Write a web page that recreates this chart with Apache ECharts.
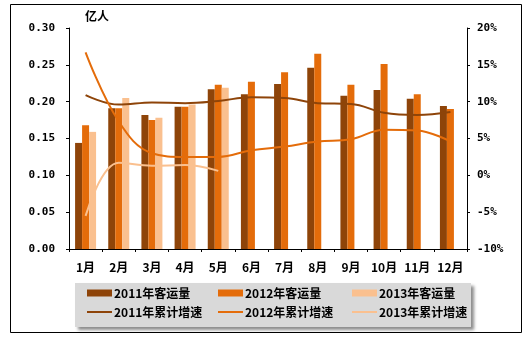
<!DOCTYPE html>
<html>
<head>
<meta charset="utf-8">
<script src="https://cdn.jsdelivr.net/npm/echarts@6/dist/echarts.min.js"></script>
<style>html,body{margin:0;padding:0;background:#fff;}#c{width:526px;height:338px;}</style>
</head>
<body>
<div id="c"></div>
<script>
var months = ['1月','2月','3月','4月','5月','6月','7月','8月','9月','10月','11月','12月'];
var vol2011 = [0.144,0.191,0.182,0.193,0.217,0.210,0.224,0.246,0.208,0.216,0.204,0.194];
var vol2012 = [0.168,0.191,0.175,0.193,0.223,0.227,0.240,0.265,0.223,0.251,0.210,0.190];
var vol2013 = [0.159,0.205,0.178,0.196,0.219,'-','-','-','-','-','-','-'];
var gr2011 = [10.9,9.6,9.9,9.8,10.1,10.6,10.5,9.8,9.7,8.5,8.2,8.6];
var gr2012 = [16.7,7.3,3.0,2.5,2.5,3.4,3.9,4.6,4.9,6.2,6.1,4.6];
var gr2013 = [-5.5,1.7,1.3,1.4,0.6,'-','-','-','-','-','-','-'];
var leftTicks = [0,0.30,0.05];
var rightTicks = [-10,20,5];

var cDark = '#8E4409', cOrange = '#E46C0A', cLight = '#FAC08F';
var monoFont = 'DejaVu Sans Mono';
var cjkFont = 'Noto Sans CJK SC';

var chart = echarts.init(document.getElementById('c'));
function legendItem(left, top, name, h) {
  return {
    orient: 'horizontal', left: left, top: top, itemWidth: 25, itemHeight: h,
    padding: 0, icon: 'rect',
    data: [name],
    textStyle: {fontFamily: cjkFont, fontWeight: 'bold', fontSize: 12, color: '#000', lineHeight: 12, padding: [0,0,0,-3]}
  };
}
chart.setOption({
  animation: false,
  graphic: [
    {type: 'rect', shape: {x: 10.5, y: 4.5, width: 511, height: 328}, style: {fill: 'none', stroke: '#000', lineWidth: 1}, z: 0},
    {type: 'rect', shape: {x: 75, y: 283, width: 396, height: 44},
     style: {fill: '#d9d9d9', shadowBlur: 3, shadowOffsetX: 3, shadowOffsetY: 3, shadowColor: 'rgba(0,0,0,0.45)'}, z: 1}
  ],
  legend: [
    legendItem(87, 287, '2011年客运量', 7),
    legendItem(218, 287, '2012年客运量', 7),
    legendItem(352, 287, '2013年客运量', 7),
    legendItem(87, 306, '2011年累计增速', 2),
    legendItem(218, 306, '2012年累计增速', 2),
    legendItem(352, 306, '2013年累计增速', 2)
  ],
  grid: {left: 69, right: 59, top: 28, bottom: 89},
  xAxis: {
    type: 'category', data: months,
    axisLine: {lineStyle: {color: '#000', width: 1}},
    axisTick: {show: true, length: 3, lineStyle: {color: '#000'}},
    axisLabel: {interval: 0, fontFamily: cjkFont, fontWeight: 'bold', fontSize: 12, color: '#000', margin: 12}
  },
  yAxis: [
    {type: 'value', min: leftTicks[0], max: leftTicks[1], interval: leftTicks[2],
     name: '亿人', nameLocation: 'end', nameGap: 6,
     nameTextStyle: {fontFamily: cjkFont, fontWeight: 'bold', fontSize: 12, color: '#000', align: 'left', padding: [0,0,0,16]},
     axisLine: {show: true, lineStyle: {color: '#000'}},
     axisTick: {show: true, length: 3, lineStyle: {color: '#000'}},
     splitLine: {show: false},
     axisLabel: {fontFamily: monoFont, fontWeight: 'bold', fontSize: 11, color: '#000', margin: 14,
       formatter: function (v) { return v.toFixed(2); }}
    },
    {type: 'value', min: rightTicks[0], max: rightTicks[1], interval: rightTicks[2], position: 'right',
     axisLine: {show: true, lineStyle: {color: '#000'}},
     axisTick: {show: true, length: 3, lineStyle: {color: '#000'}},
     splitLine: {show: false},
     axisLabel: {fontFamily: monoFont, fontWeight: 'bold', fontSize: 11, color: '#000', margin: 10,
       formatter: '{value}%'}
    }
  ],
  series: [
    {name: '2011年客运量', type: 'bar', data: vol2011, barWidth: 7, barGap: 0, itemStyle: {color: cDark}},
    {name: '2012年客运量', type: 'bar', data: vol2012, barWidth: 7, barGap: 0, itemStyle: {color: cOrange}},
    {name: '2013年客运量', type: 'bar', data: vol2013, barWidth: 7, barGap: 0, itemStyle: {color: cLight}},
    {name: '2011年累计增速', type: 'line', yAxisIndex: 1, data: gr2011, smooth: 0.4, symbol: 'none',
     lineStyle: {color: cDark, width: 2}, itemStyle: {color: cDark}, z: 3},
    {name: '2012年累计增速', type: 'line', yAxisIndex: 1, data: gr2012, smooth: 0.4, symbol: 'none',
     lineStyle: {color: cOrange, width: 2}, itemStyle: {color: cOrange}, z: 3},
    {name: '2013年累计增速', type: 'line', yAxisIndex: 1, data: gr2013, smooth: 0.4, symbol: 'none',
     lineStyle: {color: cLight, width: 2}, itemStyle: {color: cLight}, z: 3}
  ]
});
</script>
</body>
</html>
